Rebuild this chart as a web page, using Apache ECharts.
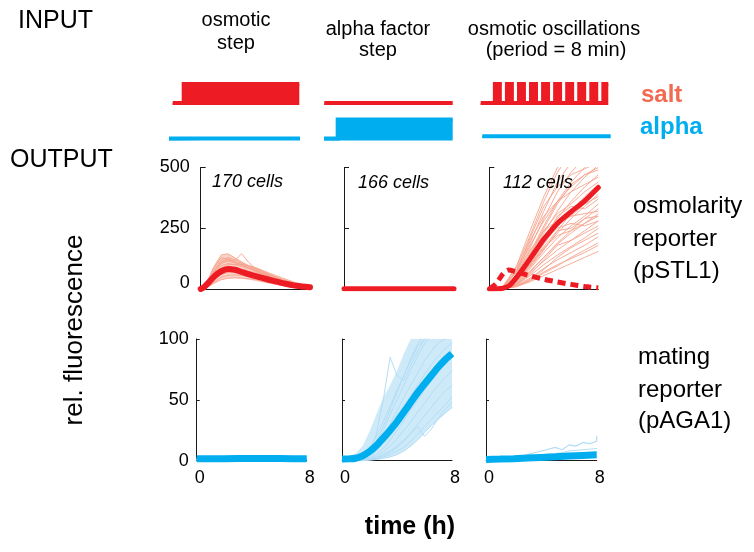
<!DOCTYPE html>
<html><head><meta charset="utf-8">
<script src="https://cdn.jsdelivr.net/npm/echarts@6/dist/echarts.min.js"></script>
<style>html,body{margin:0;padding:0;background:#fff}#c{width:754px;height:552px}</style>
</head><body><div id="c"></div>
<script>
// ================= DATA =================
// input schematics: [time, level]
const saltStep1   = [[-0.76,0],[0,0],[0,1],[8,1]];
const alphaFlat1  = [[-1,0],[8,0]];
const saltFlat2   = [[-1,0],[8,0]];
const alphaStep2  = [[-0.95,0],[0,0],[0,1],[8,1]];
const oscOn       = [0,0.85,1.7,2.55,3.4,4.25,5.1,5.95,6.8,7.65];
const oscOff      = [0.35,1.2,2.05,2.9,3.75,4.6,5.45,6.3,7.15,8];
const alphaFlat3  = [[-1,0],[8,0]];

// output: osmotic step (pSTL1)
const tA = [0,0.25,0.5,1,1.5,2,2.5,3,3.5,4,5,6,7,8];
const osmStepMean  = [0,8,22,52,73,82,79,70,61,53,38,24,13,7];
const osmStepUpper = [0,10,35,95,140,145,130,115,100,90,62,40,20,10];
const osmStepLower = [0,2,8,24,38,44,44,42,38,33,22,12,5,1];
const osmStepCells = [
  [0,10,35,95,140,145,128,110,95,82,58,35,18,8],
  [0,8,30,80,120,130,120,105,92,80,55,32,15,6],
  [0,6,25,70,105,115,108,98,88,78,52,28,12,4],
  [0,5,20,60,95,105,100,92,84,72,48,26,12,5],
  [0,4,18,52,80,90,88,82,74,66,44,24,10,3],
  [0,3,15,45,70,80,80,76,70,62,42,22,9,3],
  [0,3,12,38,60,68,70,66,62,55,38,20,8,2],
  [0,2,10,30,48,56,58,56,52,46,32,17,7,2],
  [0,2,8,24,38,44,46,45,42,38,26,14,6,2],
  [0,5,22,70,110,120,118,145,110,85,60,38,20,8],
  [0,7,30,90,130,120,110,102,96,88,62,40,22,10],
  [0,4,16,50,85,100,102,98,94,88,66,45,25,12],
  [0,6,26,75,112,125,112,100,86,74,50,30,14,5],
  [0,3,14,42,66,76,74,70,66,60,46,30,16,6]
];

// output: alpha step (pSTL1) - flat
const tC = [0,1,2,3,4,5,6,7,8];
const alphaStepOsm = [1,1,1,1,1,1,1,1,1];

// output: osmotic oscillations (pSTL1)
const tM = [0,0.5,1,1.5,2,2.5,3,3.5,4,5,6,7,8];
const oscMean = [0,0.5,3,15,48,85,125,165,205,270,318,363,418];
const tD = [0,0.5,1,1.4,2,3,4,5,6,7,8];
const oscDash = [0,22,62,78,70,54,40,29,19,10,5];
const oscCells = [
  [0,10,90,220,360,480,560,600,650],
  [0,8,70,190,320,440,520,580,620],
  [0,6,60,170,290,400,480,540,600],
  [0,5,50,150,260,360,440,500,560],
  [0,5,45,130,230,320,400,460,510],
  [0,4,40,120,210,290,360,420,470],
  [0,4,35,105,185,260,320,380,430],
  [0,3,30,95,165,230,290,340,390],
  [0,3,28,85,150,210,260,300,350],
  [0,3,25,75,130,185,230,270,310],
  [0,2,22,65,115,160,200,240,280],
  [0,2,18,55,100,140,175,210,250],
  [0,2,15,45,85,120,150,180,215],
  [0,2,12,35,70,100,125,150,180],
  [0,1,10,30,55,80,105,130,155],
  [0,8,80,200,300,360,400,430,460],
  [0,6,55,160,240,280,300,310,320],
  [0,5,40,120,200,250,270,260,280],
  [0,7,75,210,340,420,470,495,520],
  [0,4,38,110,200,300,340,330,370],
  [0,3,32,100,175,240,250,290,300],
  [0,9,95,240,380,500,540,560,580],
  [0,6,70,180,280,360,420,470,500],
  [0,5,50,140,250,350,430,470,490],
  [0,4,45,140,240,310,350,400,440],
  [0,3,30,90,160,240,310,370,420],
  [0,2,20,70,130,190,240,290,330],
  [0,2,18,60,120,180,200,230,260],
  [0,1,12,40,80,130,170,200,230],
  [0,1,10,35,65,95,130,160,190],
  [0,3,40,100,170,220,240,270,300],
  [0,4,50,130,210,270,300,350,380]
];

// output: pAGA1
const aga1Osm = [1.5,1.6,1.7,1.8,1.8,1.8,1.8,1.7,1.7];
const aga1OsmCells = [
  [2,2.5,3,3.2,3.5,3.4,3.2,3,3],
  [1,1.5,2,2.5,2.8,3,3,2.8,2.6],
  [0.5,0.8,1,1.2,1.3,1.5,1.4,1.3,1.2]
];
const tB = [0,0.5,1,1.5,2,2.5,3,3.5,4,4.5,5,5.5,6,6.5,7,7.5,8];
const aga1AlphaMean  = [1.4,1.5,2,4,7.5,12.5,18.5,25,32,40,48,56,63,70,77,83,88];
const aga1AlphaUpper = [2,3,6,12,24,38,52,62,74,88,100,105,105,105,105,105,105];
const aga1AlphaLower = [0,0,0,0,0.5,1,2,3,5,8,12,17,23,29,34,39,43];
const aga1AlphaCells = [
  [0,0,0.5,3,10,20,32,45,58,70,82,94,100,105,105,105,105],
  [0,0,1,3,8,22,50,85,70,66,78,90,100,105,105,105,105],
  [0,0,0.5,2,6,14,25,38,50,62,74,86,96,104,110,110,110],
  [0,0,0.5,1.5,5,11,20,30,41,52,62,72,82,90,97,100,104],
  [0,0,0,1,3,8,15,24,33,43,53,62,71,79,86,92,97],
  [0,0,0,1,2,5,10,17,25,33,42,50,58,66,73,79,85],
  [0,0,0,0.5,1.5,3.5,7,12,18,25,32,40,47,55,62,68,74],
  [0,0,0,0.5,1,2.5,5,8,12,17,23,30,37,44,51,57,62],
  [0,0,0,0,0.5,1.5,3,5,8,11,16,22,28,34,40,46,52],
  [0,0,0,0.5,1,2,4,7,11,16,22,28,20,26,35,42,48],
  [0,0,0,0,0.5,1,2,3,5,8,12,17,23,29,34,39,44],
  [0,0,0.5,2,7,16,28,42,56,70,84,96,104,110,110,110,110]
];
const tE = [0,1,2,3,4,5,5.5,6,6.5,7,7.5,8,8];
const aga1OscCell1 = [0,0.5,2,5,8,11,9,13,12,15,14,16,20];
const aga1OscCells = [
  [0,0.5,1.5,3,5,6,6.5,8,8.5,9,9.5,10,10],
  [0,0.5,1,2,3,4,4.5,5,5.5,6,6.5,7,7]
];
const aga1OscMean = [1,1.3,1.7,2.2,2.7,3.2,3.8,4.3,4.8];

// tick labels
const topTicks = [0,250,500];
const botTicks = [0,50,100];
const timeTicks = [0,8];

// ================= CHART =================
const RED='#ED1C24', BLUE='#00AEEF', LRED='#F6A48E', LBLUE='#B3DDF5', BAND_R='#FAD3C8', BAND_B='#CEEAF9';
const FONT='"Liberation Sans", Arial, Helvetica, sans-serif';
const zip=(t,v)=>t.map((x,i)=>[x,v[i]]);

const grids=[], xAxes=[], yAxes=[], series=[];
function addGrid(left,top,width,height,x,y){
  grids.push({left,top,width,height});
  const i=grids.length-1;
  xAxes.push(Object.assign({gridIndex:i,type:'value'},x));
  yAxes.push(Object.assign({gridIndex:i,type:'value'},y));
  return i;
}
const hid={show:false};
function inputGrid(left,right,zeroY,xmin){
  const top=zeroY-19;
  return addGrid(left,top,right-left,20.9,Object.assign({min:xmin,max:8},hid),{min:-0.1,max:1,show:false});
}
function inputSeries(gi,data,color){
  series.push({type:'line',xAxisIndex:gi,yAxisIndex:gi,data,showSymbol:false,silent:true,clip:false,
    lineStyle:{color,width:4,join:'miter',cap:'butt'},
    areaStyle:{color,opacity:1,origin:'start'}});
}
let g;
g=inputGrid(172.7,299.3,103,-0.76); inputSeries(g,saltStep1,RED);
g=inputGrid(169,300,138.5,-1); inputSeries(g,alphaFlat1,BLUE);
g=inputGrid(324.3,452.7,103,-1); inputSeries(g,saltFlat2,RED);
g=inputGrid(324,452.7,138.5,-0.95); inputSeries(g,alphaStep2,BLUE);
g=inputGrid(480.7,608.3,103,-1);
{
  const d=[[-1,0]];
  oscOn.forEach((on,i)=>{ d.push([on,0],[on,1],[oscOff[i],1]); if(oscOff[i]<8) d.push([oscOff[i],0]); });
  inputSeries(g,d,RED);
}
g=inputGrid(482.3,610.7,136.2,-1); inputSeries(g,alphaFlat3,BLUE);

const axisLineStyle={lineStyle:{color:'#1a1a1a',width:1}};
function outGrid(left,top,width,height,yMax,yInt,showY,showX,tickLen){
  return addGrid(left,top,width,height,
    {min:0,max:8,interval:8,axisLine:Object.assign({show:true},axisLineStyle),axisTick:{show:false},splitLine:{show:false},
     axisLabel:{show:showX,color:'#000',fontSize:18,fontFamily:FONT,margin:8,padding:[0,0,0,6]}},
    {min:0,max:yMax,interval:yInt,axisLine:Object.assign({show:true},axisLineStyle),
     axisTick:{show:true,inside:true,length:tickLen,lineStyle:{color:'#1a1a1a'}},splitLine:{show:false},
     axisLabel:{show:showY,color:'#000',fontSize:18,fontFamily:FONT,margin:showY&&yMax===500?11:8,
       formatter:v=>v===0&&yMax===500?'{z|0}':String(v),
       rich:{z:{fontSize:18,fontFamily:FONT,color:'#000',padding:[0,0,12,0]}}}});
}
const o1=outGrid(200.7,167.5,109.3,121.5,500,250,true,false,5);
const o2=outGrid(344,167.5,110,121.5,500,250,false,false,5);
const o3=outGrid(489.3,167.5,109,121.5,500,250,false,false,5);
const b1=outGrid(196.7,339,110,121.7,100,50,true,true,3);
const b2=outGrid(342,339,110,121.7,100,50,false,true,3);
const b3=outGrid(486,339,110.7,121.7,100,50,false,true,3);

function line(gi,data,color,width,extra){
  series.push(Object.assign({type:'line',xAxisIndex:gi,yAxisIndex:gi,data,showSymbol:false,silent:true,
    lineStyle:{color,width,join:'round',cap:'round'}},extra||{}));
}
function band(gi,t,lower,upper,color){
  series.push({type:'custom',xAxisIndex:gi,yAxisIndex:gi,silent:true,clip:true,z:1,data:[[0,0]],
    renderItem:(params,api)=>{
      const up=t.map((x,i)=>api.coord([x,upper[i]]));
      const lo=t.map((x,i)=>api.coord([x,lower[i]])).reverse();
      return {type:'polygon',shape:{points:up.concat(lo)},style:{fill:color}};
    }});
}
band(o1,tA,osmStepLower,osmStepUpper,BAND_R);
osmStepCells.forEach(c=>line(o1,zip(tA,c),LRED,1,{lineStyle:{color:LRED,width:1,opacity:0.9}}));
line(o1,zip(tA,osmStepMean),RED,6,{smooth:0.3});
line(o2,zip(tC,alphaStepOsm),RED,5);
oscCells.forEach(c=>line(o3,zip(tC,c),LRED,1,{lineStyle:{color:LRED,width:1,opacity:0.9}}));
line(o3,zip(tM,oscMean),RED,5,{smooth:0.3});
line(o3,zip(tD,oscDash),RED,5,{smooth:0.3,lineStyle:{color:RED,width:5,type:[8,5],cap:'butt'}});
aga1OsmCells.forEach(c=>line(b1,zip(tC,c),LBLUE,1));
line(b1,zip(tC,aga1Osm),BLUE,7,{lineStyle:{color:BLUE,width:7,cap:'butt'}});
band(b2,tB,aga1AlphaLower,aga1AlphaUpper,BAND_B);
aga1AlphaCells.forEach(c=>line(b2,zip(tB,c),LBLUE,1));
line(b2,zip(tB,aga1AlphaMean),BLUE,7,{smooth:0.3,lineStyle:{color:BLUE,width:7,cap:'butt'}});
line(b3,zip(tE,aga1OscCell1),LBLUE,1.2);
aga1OscCells.forEach(c=>line(b3,zip(tE,c),LBLUE,1));
line(b3,zip(tC,aga1OscMean),BLUE,7,{lineStyle:{color:BLUE,width:7,cap:'butt'}});

function txt(text,x,y,o){
  o=o||{};
  return {type:'text',x,y,rotation:o.rot||0,silent:true,z:100,
    style:{text,fill:o.color||'#000',fontSize:o.size||20,fontFamily:FONT,fontWeight:o.weight||'normal',
      fontStyle:o.style||'normal',align:o.align||'left',verticalAlign:'middle'}};
}
const graphic=[
  txt('INPUT',18,21,{size:25}),
  txt('OUTPUT',10,160,{size:25}),
  txt('osmotic',236,20,{align:'center'}),
  txt('step',236,43,{align:'center'}),
  txt('alpha factor',378,29,{align:'center'}),
  txt('step',378,50,{align:'center'}),
  txt('osmotic oscillations',554,29,{align:'center'}),
  txt('(period = 8 min)',556,50,{align:'center'}),
  txt('salt',641,95,{size:24,weight:'bold',color:'#F26A50'}),
  txt('alpha',640,127,{size:24,weight:'bold',color:BLUE}),
  txt('170 cells',212,182,{size:18,style:'italic'}),
  txt('166 cells',358,183,{size:18,style:'italic'}),
  txt('112 cells',503,183,{size:18,style:'italic'}),
  txt('osmolarity',633,206,{size:24}),
  txt('reporter',633,239,{size:24}),
  txt('(pSTL1)',633,271,{size:24}),
  txt('mating',638,357,{size:24}),
  txt('reporter',638,390,{size:24}),
  txt('(pAGA1)',638,421,{size:24}),
  txt('rel. fluorescence',75,330,{size:26,rot:Math.PI/2,align:'center'}),
  txt('time (h)',410,527,{size:25,weight:'bold',align:'center'})
];

const chart=echarts.init(document.getElementById('c'),null,{renderer:'canvas'});
chart.setOption({animation:false,backgroundColor:'#fff',grid:grids,xAxis:xAxes,yAxis:yAxes,series,graphic});
</script></body></html>
